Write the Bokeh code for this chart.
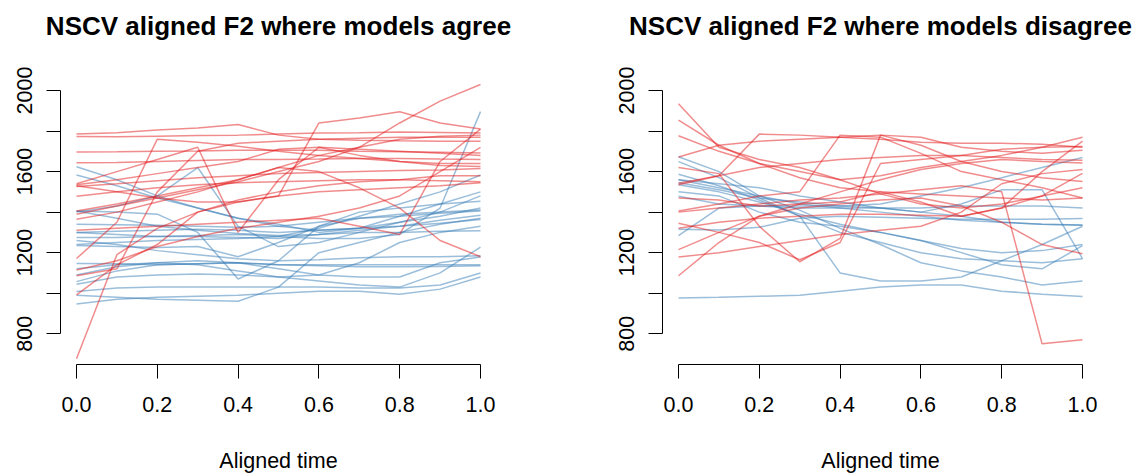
import math
from bokeh.plotting import figure
from bokeh.models import Range1d, FixedTicker, PrintfTickFormatter, Title
from bokeh.layouts import row
from bokeh.embed import file_html
from bokeh.resources import INLINE

# Aligned time grid
TIME = [0.0, 0.1, 0.2, 0.3, 0.4, 0.5, 0.6, 0.7, 0.8, 0.9, 1.0]

# Panel 1: models agree
agree_red = [
    [1786, 1792, 1805, 1815, 1832, 1780, 1760, 1755, 1752, 1750, 1750],
    [1773, 1772, 1775, 1778, 1780, 1785, 1790, 1792, 1795, 1793, 1790],
    [1530, 1500, 1470, 1450, 1450, 1480, 1840, 1865, 1895, 1840, 1810],
    [1390, 1430, 1470, 1510, 1550, 1600, 1650, 1720, 1840, 1948, 2030],
    [1697, 1698, 1700, 1702, 1705, 1705, 1705, 1700, 1698, 1695, 1692],
    [1644, 1645, 1650, 1655, 1660, 1660, 1662, 1665, 1665, 1662, 1660],
    [1535, 1560, 1590, 1620, 1650, 1710, 1720, 1680, 1650, 1630, 1625],
    [1527, 1540, 1555, 1570, 1580, 1590, 1595, 1600, 1605, 1608, 1615],
    [1478, 1500, 1520, 1535, 1545, 1550, 1555, 1560, 1560, 1555, 1550],
    [1405, 1440, 1480, 1520, 1560, 1620, 1680, 1720, 1760, 1775, 1780],
    [1171, 1350, 1760, 1745, 1725, 1700, 1680, 1665, 1650, 1640, 1640],
    [1086, 1120, 1500, 1700, 1740, 1750, 1760, 1765, 1770, 1770, 1770],
    [992, 1140, 1240, 1400, 1450, 1480, 1500, 1510, 1520, 1530, 1545],
    [676, 1190, 1320, 1400, 1460, 1500, 1530, 1550, 1560, 1580, 1580],
    [1310, 1320, 1330, 1340, 1350, 1360, 1370, 1330, 1290, 1650, 1810],
    [1365, 1400, 1450, 1500, 1560, 1620, 1600, 1520, 1420, 1260, 1180],
    [1540, 1600, 1660, 1720, 1300, 1560, 1720, 1710, 1700, 1690, 1680],
    [1114, 1160, 1230, 1280, 1320, 1350, 1380, 1420, 1480, 1600, 1720],
]
agree_blue = [
    [1624, 1560, 1480, 1420, 1370, 1330, 1310, 1320, 1350, 1400, 1480],
    [1400, 1430, 1480, 1620, 1330, 1230, 1250, 1300, 1350, 1380, 1420],
    [1405, 1400, 1390, 1300, 1070, 1160, 1330, 1400, 1420, 1440, 1454],
    [1235, 1230, 1225, 1230, 1180, 1250, 1330, 1370, 1390, 1400, 1410],
    [990, 980, 970, 965, 960, 1030, 1200, 1250, 1300, 1340, 1370],
    [946, 970, 980, 985, 990, 1000, 1010, 1010, 995, 1020, 1080],
    [1008, 1025, 1030, 1030, 1030, 1030, 1030, 1025, 1025, 1040, 1100],
    [1044, 1080, 1090, 1095, 1090, 1080, 1060, 1040, 1030, 1100, 1227],
    [1057, 1110, 1140, 1145, 1150, 1120, 1090, 1080, 1080, 1150, 1178],
    [1090, 1130, 1150, 1160, 1150, 1140, 1140, 1140, 1140, 1140, 1140],
    [1146, 1145, 1140, 1145, 1150, 1140, 1135, 1130, 1130, 1132, 1135],
    [1260, 1240, 1210, 1190, 1170, 1160, 1165, 1175, 1180, 1180, 1185],
    [1275, 1275, 1280, 1280, 1275, 1270, 1290, 1300, 1300, 1305, 1308],
    [1300, 1305, 1310, 1315, 1310, 1300, 1310, 1320, 1330, 1345, 1364],
    [1340, 1338, 1335, 1330, 1325, 1330, 1350, 1370, 1380, 1395, 1405],
    [1583, 1530, 1470, 1420, 1370, 1340, 1300, 1320, 1380, 1440, 1500],
    [1300, 1290, 1280, 1285, 1290, 1280, 1270, 1270, 1290, 1420, 1896],
    [1240, 1250, 1260, 1265, 1270, 1280, 1320, 1380, 1440, 1500, 1583],
    [1405, 1370, 1330, 1310, 1295, 1285, 1290, 1310, 1330, 1360, 1384],
    [1120, 1140, 1150, 1140, 1110, 1080, 1090, 1150, 1250, 1300, 1330],
]

# Panel 2: models disagree
disagree_red = [
    [1935, 1720, 1660, 1620, 1560, 1490, 1440, 1420, 1440, 1480, 1520],
    [1854, 1730, 1640, 1570, 1520, 1500, 1490, 1480, 1470, 1460, 1470],
    [1777, 1700, 1640, 1600, 1560, 1580, 1620, 1650, 1680, 1720, 1770],
    [1620, 1590, 1330, 1155, 1270, 1780, 1730, 1650, 1600, 1570, 1551],
    [1535, 1580, 1785, 1780, 1770, 1760, 1745, 1740, 1740, 1735, 1720],
    [1672, 1730, 1750, 1760, 1770, 1780, 1770, 1720, 1700, 1690, 1705],
    [1405, 1440, 1480, 1500, 1780, 1770, 1690, 1600, 1560, 1520, 1470],
    [1345, 1300, 1250, 1165, 1250, 1640, 1660, 1680, 1710, 1720, 1724],
    [1400, 1420, 1440, 1460, 1470, 1490, 1510, 1530, 1500, 750, 770],
    [1320, 1350, 1370, 1380, 1390, 1390, 1385, 1380, 1420, 1600, 1750],
    [1215, 1300, 1380, 1420, 1440, 1460, 1470, 1430, 1350, 1240, 1195],
    [1178, 1200, 1230, 1260, 1290, 1310, 1330, 1400, 1540, 1590, 1610],
    [1086, 1250, 1380, 1440, 1500, 1560, 1610, 1640, 1660, 1650, 1643],
    [1543, 1580, 1620, 1640, 1660, 1670, 1680, 1680, 1670, 1660, 1656],
    [1470, 1460, 1430, 1440, 1450, 1500, 1450, 1380, 1420, 1480, 1591],
]
disagree_blue = [
    [1673, 1600, 1480, 1410, 1320, 1240, 1150, 1110, 1080, 1040, 1060],
    [1649, 1570, 1470, 1380, 1100, 1060, 1060, 1080, 1160, 1240, 1330],
    [1587, 1530, 1460, 1380, 1300, 1250, 1200, 1170, 1160, 1150, 1170],
    [1560, 1520, 1480, 1440, 1420, 1400, 1380, 1360, 1350, 1340, 1335],
    [1535, 1500, 1450, 1390, 1340, 1300, 1260, 1220, 1200, 1210, 1240],
    [1545, 1510, 1470, 1450, 1430, 1440, 1480, 1520, 1570, 1620, 1670],
    [1478, 1440, 1430, 1420, 1420, 1420, 1420, 1430, 1430, 1430, 1420],
    [1316, 1312, 1325, 1370, 1380, 1375, 1370, 1365, 1365, 1365, 1368],
    [1284, 1420, 1430, 1430, 1430, 1420, 1400, 1380, 1350, 1340, 1336],
    [976, 980, 985, 990, 1010, 1030, 1040, 1040, 1010, 995, 984],
    [1560, 1540, 1520, 1480, 1450, 1420, 1400, 1440, 1510, 1510, 1171],
    [1500, 1480, 1400, 1350, 1330, 1300, 1260, 1200, 1140, 1120, 1235],
]

X_TICKS = [0.0, 0.2, 0.4, 0.6, 0.8, 1.0]
Y_TICKS = [800, 1000, 1200, 1400, 1600, 1800, 2000]
Y_HIDDEN = {1000: "", 1400: "", 1800: ""}

RED = "#E41A1C"
BLUE = "#377EB8"
FONT = "Liberation Sans"


def make_panel(title, reds, blues, border_left, border_right):
    p = figure(width=571, height=475, output_backend="svg", toolbar_location=None,
               x_range=Range1d(-0.0396, 1.0396), y_range=Range1d(648, 2094),
               min_border_left=border_left, min_border_right=border_right,
               min_border_top=70, min_border_bottom=108)
    p.outline_line_color = None
    p.grid.visible = False
    p.background_fill_color = "white"
    p.border_fill_color = "white"

    p.title.text = ""
    # white (invisible) spacer between the plotting region and the title
    p.add_layout(Title(text=".", text_font_size="10px", text_color="white",
                       standoff=9), "above")
    p.add_layout(Title(text=title, text_font=FONT, text_font_size="26px",
                       text_font_style="bold", text_color="black",
                       align="center", vertical_align="top", standoff=20),
                 "above")

    p.multi_line(xs=[TIME] * len(blues), ys=blues, line_color=BLUE,
                 line_alpha=0.5, line_width=1.5)
    p.multi_line(xs=[TIME] * len(reds), ys=reds, line_color=RED,
                 line_alpha=0.5, line_width=1.5)

    xa = p.xaxis[0]
    xa.ticker = FixedTicker(ticks=X_TICKS)
    xa.formatter = PrintfTickFormatter(format="%.1f")
    xa.bounds = (0, 1)
    xa.axis_label = "Aligned time"
    ya = p.yaxis[0]
    ya.ticker = FixedTicker(ticks=Y_TICKS)
    ya.major_label_overrides = Y_HIDDEN
    ya.bounds = (800, 2000)
    ya.major_label_orientation = "vertical"

    for ax in (xa, ya):
        ax.axis_line_color = "black"
        ax.axis_line_width = 1
        ax.major_tick_line_color = "black"
        ax.major_tick_line_width = 1
        ax.major_tick_out = 14
        ax.major_tick_in = 0
        ax.minor_tick_line_color = None
        ax.major_label_text_font = FONT
        ax.major_label_text_font_size = "21.5px"
        ax.major_label_text_color = "black"
        ax.axis_label_text_font = FONT
        ax.axis_label_text_font_size = "21.5px"
        ax.axis_label_text_font_style = "normal"
        ax.axis_label_text_color = "black"
    xa.major_label_standoff = 18
    xa.axis_label_standoff = 34
    ya.major_label_standoff = 14
    return p


p1 = make_panel("NSCV aligned F2 where models agree", agree_red, agree_blue, 60, 75)
p2 = make_panel("NSCV aligned F2 where models disagree", disagree_red, disagree_blue, 91, 44)

layout = row(p1, p2)
open("out.html", "w").write(file_html(layout, INLINE))
